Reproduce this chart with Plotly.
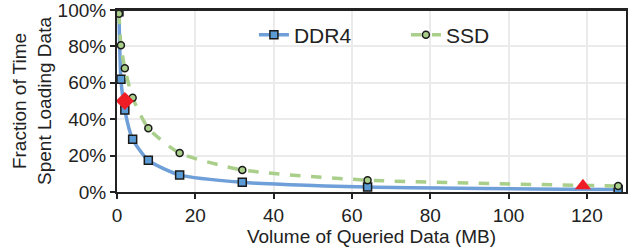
import plotly.graph_objects as go

x_mb = [0.5, 1, 2, 4, 8, 16, 32, 64, 128]
ddr4 = [0.99, 0.62, 0.45, 0.29, 0.174, 0.094, 0.053, 0.027, 0.014]
ssd = [0.98, 0.806, 0.68, 0.518, 0.35, 0.214, 0.121, 0.065, 0.033]
marker_x = [2, 119]
marker_y = [0.50, 0.035]
x_ticks = [0, 20, 40, 60, 80, 100, 120]
y_ticks = [0, 0.2, 0.4, 0.6, 0.8, 1.0]
y_tick_labels = ["0%", "20%", "40%", "60%", "80%", "100%"]

fig = go.Figure()
fig.add_trace(go.Scatter(
    x=x_mb, y=ddr4, name="DDR4", mode="lines+markers",
    line=dict(color="#6f9fd8", width=3.5, shape="spline", smoothing=0.6),
    marker=dict(symbol="square", size=8, color="#5b9bd5", line=dict(color="#1a1a1a", width=1.5)),
))
fig.add_trace(go.Scatter(
    x=x_mb, y=ssd, name="SSD", mode="lines+markers",
    line=dict(color="#a9cf8a", width=3.5, dash="dash", shape="spline", smoothing=0.6),
    marker=dict(symbol="circle", size=7, color="#a9cf8a", line=dict(color="#1a1a1a", width=1.5)),
))
fig.add_trace(go.Scatter(
    x=marker_x[:1], y=marker_y[:1], mode="markers", showlegend=False,
    marker=dict(symbol="diamond", size=14, color="#ee1c25"),
))
fig.add_trace(go.Scatter(
    x=marker_x[1:], y=marker_y[1:], mode="markers", showlegend=False,
    marker=dict(symbol="triangle-up", size=14, color="#ee1c25"),
))

fig.update_layout(
    width=639, height=250,
    margin=dict(l=117, r=13, t=10, b=58, autoexpand=False),
    paper_bgcolor="white", plot_bgcolor="white",
    font=dict(family="Liberation Sans, Arial, sans-serif", size=19, color="#222"),
    legend=dict(orientation="h", x=0.269, y=0.862, xanchor="left", yanchor="middle",
                font=dict(size=21), bgcolor="rgba(0,0,0,0)", entrywidth=107, itemwidth=30),
    showlegend=True,
)
fig.add_shape(type="line", xref="paper", yref="paper", x0=0, x1=1, y0=1, y1=1,
              line=dict(color="#222", width=2), layer="above")
fig.update_xaxes(
    range=[0, 130], tickvals=x_ticks, showgrid=True, gridcolor="#ebebeb", gridwidth=1.5,
    showline=True, linecolor="#222", linewidth=2, mirror=True,
    ticks="outside", ticklen=5, tickcolor="#222", tickwidth=1.5, automargin=False,
    ticklabeloverflow="allow",
    title=dict(text="Volume of Queried Data (MB)", font=dict(size=19), standoff=0),
    zeroline=False,
)
fig.update_yaxes(
    range=[0, 1.0], tickvals=y_ticks, ticktext=y_tick_labels, showgrid=True,
    gridcolor="#ebebeb", gridwidth=1.5,
    showline=True, linecolor="#222", linewidth=2, mirror=True,
    ticks="outside", ticklen=5, tickcolor="#222", tickwidth=1.5, automargin=False,
    ticklabeloverflow="allow",
    title=dict(text="Fraction of Time<br>Spent Loading Data", font=dict(size=19), standoff=1),
    zeroline=False,
)
fig.write_html("out.html", config={"displayModeBar": False},
               post_script="document.body.style.margin='0';")
